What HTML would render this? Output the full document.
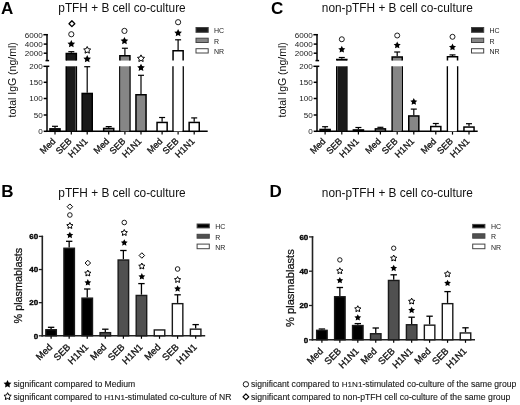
<!DOCTYPE html>
<html><head><meta charset="utf-8"><title>figure</title>
<style>html,body{margin:0;padding:0;background:#fff;width:520px;height:405px;overflow:hidden}svg{display:block;will-change:transform}text{font-family:"Liberation Sans",sans-serif}</style>
</head><body>
<svg width="520" height="405" viewBox="0 0 520 405">
<rect width="520" height="405" fill="#fff"/>
<text x="0.9" y="14.1" font-size="17" text-anchor="start" font-weight="bold" fill="#000" >A</text>
<text x="58.3" y="12.4" font-size="11.85" text-anchor="start" font-weight="normal" fill="#111" >pTFH + B cell co-culture</text>
<text x="0" y="0" font-size="10.5" text-anchor="middle" fill="#111" transform="translate(15.7,79.9) rotate(-90)">total IgG (ng/ml)</text>
<line x1="47" y1="34.0" x2="47" y2="60.6" stroke="#000" stroke-width="1.5"/>
<line x1="43.4" y1="34.7" x2="47.75" y2="34.7" stroke="#000" stroke-width="1.5"/>
<line x1="43.7" y1="44.1" x2="47" y2="44.1" stroke="#000" stroke-width="1.5"/>
<line x1="43.7" y1="53.2" x2="47" y2="53.2" stroke="#000" stroke-width="1.5"/>
<line x1="45.5" y1="60.6" x2="49.1" y2="60.6" stroke="#000" stroke-width="1.5"/>
<line x1="47" y1="66.3" x2="47" y2="132.05" stroke="#000" stroke-width="1.5"/>
<line x1="43.4" y1="66.3" x2="49.3" y2="66.3" stroke="#000" stroke-width="1.5"/>
<line x1="43.7" y1="82.3" x2="47" y2="82.3" stroke="#000" stroke-width="1.5"/>
<line x1="43.7" y1="98.5" x2="47" y2="98.5" stroke="#000" stroke-width="1.5"/>
<line x1="43.7" y1="115.0" x2="47" y2="115.0" stroke="#000" stroke-width="1.5"/>
<line x1="43.7" y1="131.3" x2="47" y2="131.3" stroke="#000" stroke-width="1.5"/>
<text x="42.8" y="37.6" font-size="8.1" text-anchor="end" font-weight="normal" fill="#222" >6000</text>
<text x="42.8" y="47.0" font-size="8.1" text-anchor="end" font-weight="normal" fill="#222" >4000</text>
<text x="42.8" y="56.1" font-size="8.1" text-anchor="end" font-weight="normal" fill="#222" >2000</text>
<text x="42.8" y="69.2" font-size="8.1" text-anchor="end" font-weight="normal" fill="#222" >200</text>
<text x="42.8" y="85.2" font-size="8.1" text-anchor="end" font-weight="normal" fill="#222" >150</text>
<text x="42.8" y="101.4" font-size="8.1" text-anchor="end" font-weight="normal" fill="#222" >100</text>
<text x="42.8" y="117.9" font-size="8.1" text-anchor="end" font-weight="normal" fill="#222" >50</text>
<text x="42.8" y="134.20000000000002" font-size="8.1" text-anchor="end" font-weight="normal" fill="#222" >0</text>
<line x1="46.25" y1="131.3" x2="207.7" y2="131.3" stroke="#000" stroke-width="1.5"/>
<line x1="55" y1="131.3" x2="55" y2="134.6" stroke="#000" stroke-width="1.2"/>
<text x="0" y="0" font-size="9.1" text-anchor="end" fill="#111" stroke="#111" stroke-width="0.3" transform="translate(56.1,141.8) rotate(-45)">Med</text>
<line x1="71.3" y1="131.3" x2="71.3" y2="134.6" stroke="#000" stroke-width="1.2"/>
<text x="0" y="0" font-size="9.1" text-anchor="end" fill="#111" stroke="#111" stroke-width="0.3" transform="translate(72.39999999999999,141.8) rotate(-45)">SEB</text>
<line x1="87.2" y1="131.3" x2="87.2" y2="134.6" stroke="#000" stroke-width="1.2"/>
<text x="0" y="0" font-size="9.1" text-anchor="end" fill="#111" stroke="#111" stroke-width="0.3" transform="translate(88.3,141.8) rotate(-45)">H1N1</text>
<line x1="108.7" y1="131.3" x2="108.7" y2="134.6" stroke="#000" stroke-width="1.2"/>
<text x="0" y="0" font-size="9.1" text-anchor="end" fill="#111" stroke="#111" stroke-width="0.3" transform="translate(109.8,141.8) rotate(-45)">Med</text>
<line x1="124.9" y1="131.3" x2="124.9" y2="134.6" stroke="#000" stroke-width="1.2"/>
<text x="0" y="0" font-size="9.1" text-anchor="end" fill="#111" stroke="#111" stroke-width="0.3" transform="translate(126.0,141.8) rotate(-45)">SEB</text>
<line x1="141" y1="131.3" x2="141" y2="134.6" stroke="#000" stroke-width="1.2"/>
<text x="0" y="0" font-size="9.1" text-anchor="end" fill="#111" stroke="#111" stroke-width="0.3" transform="translate(142.1,141.8) rotate(-45)">H1N1</text>
<line x1="162.1" y1="131.3" x2="162.1" y2="134.6" stroke="#000" stroke-width="1.2"/>
<text x="0" y="0" font-size="9.1" text-anchor="end" fill="#111" stroke="#111" stroke-width="0.3" transform="translate(163.2,141.8) rotate(-45)">Med</text>
<line x1="178.1" y1="131.3" x2="178.1" y2="134.6" stroke="#000" stroke-width="1.2"/>
<text x="0" y="0" font-size="9.1" text-anchor="end" fill="#111" stroke="#111" stroke-width="0.3" transform="translate(179.2,141.8) rotate(-45)">SEB</text>
<line x1="194.2" y1="131.3" x2="194.2" y2="134.6" stroke="#000" stroke-width="1.2"/>
<text x="0" y="0" font-size="9.1" text-anchor="end" fill="#111" stroke="#111" stroke-width="0.3" transform="translate(195.29999999999998,141.8) rotate(-45)">H1N1</text>
<line x1="55" y1="128.1" x2="55" y2="126.3" stroke="#000" stroke-width="1.2"/>
<line x1="52" y1="126.3" x2="58" y2="126.3" stroke="#000" stroke-width="1.2"/>
<rect x="49.95" y="128.85" width="10.1" height="2.450000000000017" fill="#1a1a1a" stroke="#000" stroke-width="1.5"/>
<line x1="71.3" y1="52.8" x2="71.3" y2="51.7" stroke="#000" stroke-width="1.2"/>
<line x1="68.3" y1="51.7" x2="74.3" y2="51.7" stroke="#000" stroke-width="1.2"/>
<path d="M66.25,60.6 L66.25,53.55 L76.35,53.55 L76.35,60.6" fill="#1a1a1a" stroke="#000" stroke-width="1.5"/>
<path d="M66.25,131.3 L66.25,66.3 M76.35,66.3 L76.35,131.3" stroke="#000" stroke-width="1.5"/>
<rect x="67.0" y="66.3" width="8.6" height="65.00000000000001" fill="#1a1a1a"/>
<line x1="87.2" y1="92.7" x2="87.2" y2="66.7" stroke="#000" stroke-width="1.2"/>
<line x1="84.2" y1="66.7" x2="90.2" y2="66.7" stroke="#000" stroke-width="1.2"/>
<rect x="82.15" y="93.45" width="10.1" height="37.85000000000001" fill="#1a1a1a" stroke="#000" stroke-width="1.5"/>
<line x1="108.7" y1="127.7" x2="108.7" y2="126.6" stroke="#000" stroke-width="1.2"/>
<line x1="105.7" y1="126.6" x2="111.7" y2="126.6" stroke="#000" stroke-width="1.2"/>
<rect x="103.65" y="128.45" width="10.1" height="2.8500000000000085" fill="#868686" stroke="#000" stroke-width="1.5"/>
<line x1="124.9" y1="55" x2="124.9" y2="48.25" stroke="#000" stroke-width="1.2"/>
<line x1="121.9" y1="48.25" x2="127.9" y2="48.25" stroke="#000" stroke-width="1.2"/>
<path d="M119.85000000000001,60.6 L119.85000000000001,55.75 L129.95000000000002,55.75 L129.95000000000002,60.6" fill="#868686" stroke="#000" stroke-width="1.5"/>
<path d="M119.85000000000001,131.3 L119.85000000000001,66.3 M129.95000000000002,66.3 L129.95000000000002,131.3" stroke="#000" stroke-width="1.5"/>
<rect x="120.60000000000001" y="66.3" width="8.6" height="65.00000000000001" fill="#868686"/>
<line x1="141" y1="94.0" x2="141" y2="75.3" stroke="#000" stroke-width="1.2"/>
<line x1="138" y1="75.3" x2="144" y2="75.3" stroke="#000" stroke-width="1.2"/>
<rect x="135.95" y="94.75" width="10.1" height="36.55000000000001" fill="#868686" stroke="#000" stroke-width="1.5"/>
<line x1="162.1" y1="121.7" x2="162.1" y2="117.5" stroke="#000" stroke-width="1.2"/>
<line x1="159.1" y1="117.5" x2="165.1" y2="117.5" stroke="#000" stroke-width="1.2"/>
<rect x="157.04999999999998" y="122.45" width="10.1" height="8.850000000000009" fill="#fff" stroke="#000" stroke-width="1.5"/>
<line x1="178.1" y1="50.1" x2="178.1" y2="39.8" stroke="#000" stroke-width="1.2"/>
<line x1="175.1" y1="39.8" x2="181.1" y2="39.8" stroke="#000" stroke-width="1.2"/>
<path d="M173.04999999999998,60.6 L173.04999999999998,50.85 L183.14999999999998,50.85 L183.14999999999998,60.6" fill="#fff" stroke="#000" stroke-width="1.5"/>
<path d="M173.04999999999998,131.3 L173.04999999999998,66.3 M183.14999999999998,66.3 L183.14999999999998,131.3" stroke="#000" stroke-width="1.5"/>
<rect x="173.79999999999998" y="66.3" width="8.6" height="65.00000000000001" fill="#fff"/>
<line x1="194.2" y1="121.7" x2="194.2" y2="117.9" stroke="#000" stroke-width="1.2"/>
<line x1="191.2" y1="117.9" x2="197.2" y2="117.9" stroke="#000" stroke-width="1.2"/>
<rect x="189.14999999999998" y="122.45" width="10.1" height="8.850000000000009" fill="#fff" stroke="#000" stroke-width="1.5"/>
<polygon points="71.30,40.10 72.48,42.48 75.10,42.86 73.20,44.72 73.65,47.34 71.30,46.10 68.95,47.34 69.40,44.72 67.50,42.86 70.12,42.48" fill="#000"/>
<circle cx="71.3" cy="34.25" r="2.60" fill="none" stroke="#111" stroke-width="0.95"/>
<polygon points="71.9,20.8 74.80000000000001,23.7 71.9,26.599999999999998 69.0,23.7" fill="none" stroke="#000" stroke-width="1.3" stroke-linejoin="round"/>
<polygon points="87.20,46.52 88.28,48.71 90.70,49.06 88.95,50.77 89.36,53.18 87.20,52.04 85.04,53.18 85.45,50.77 83.70,49.06 86.12,48.71" fill="none" stroke="#000" stroke-width="1" stroke-linejoin="miter"/>
<polygon points="87.20,55.10 88.38,57.48 91.00,57.86 89.10,59.72 89.55,62.34 87.20,61.10 84.85,62.34 85.30,59.72 83.40,57.86 86.02,57.48" fill="#000"/>
<polygon points="124.45,36.90 125.63,39.28 128.25,39.66 126.35,41.52 126.80,44.14 124.45,42.90 122.10,44.14 122.55,41.52 120.65,39.66 123.27,39.28" fill="#000"/>
<circle cx="124.45" cy="30.9" r="2.60" fill="none" stroke="#111" stroke-width="0.95"/>
<polygon points="141.00,54.87 142.08,57.06 144.50,57.41 142.75,59.12 143.16,61.53 141.00,60.39 138.84,61.53 139.25,59.12 137.50,57.41 139.92,57.06" fill="none" stroke="#000" stroke-width="1" stroke-linejoin="miter"/>
<polygon points="141.00,63.70 142.18,66.08 144.80,66.46 142.90,68.32 143.35,70.94 141.00,69.70 138.65,70.94 139.10,68.32 137.20,66.46 139.82,66.08" fill="#000"/>
<polygon points="178.10,29.10 179.28,31.48 181.90,31.86 180.00,33.72 180.45,36.34 178.10,35.10 175.75,36.34 176.20,33.72 174.30,31.86 176.92,31.48" fill="#000"/>
<circle cx="178.1" cy="22.2" r="2.60" fill="none" stroke="#111" stroke-width="0.95"/>
<rect x="196.0" y="27.5" width="12.2" height="4.799999999999997" fill="#1a1a1a" stroke="#444" stroke-width="1"/>
<text x="214" y="33.199999999999996" font-size="7" text-anchor="start" font-weight="normal" fill="#222" >HC</text>
<rect x="196.0" y="38.2" width="12.2" height="4.299999999999997" fill="#868686" stroke="#444" stroke-width="1"/>
<text x="214" y="43.65" font-size="7" text-anchor="start" font-weight="normal" fill="#222" >R</text>
<rect x="196.0" y="48.7" width="12.2" height="4.299999999999997" fill="#fff" stroke="#444" stroke-width="1"/>
<text x="214" y="54.15" font-size="7" text-anchor="start" font-weight="normal" fill="#222" >NR</text>
<text x="270.9" y="14.1" font-size="17" text-anchor="start" font-weight="bold" fill="#000" >C</text>
<text x="321.8" y="12.4" font-size="11.85" text-anchor="start" font-weight="normal" fill="#111" >non-pTFH + B cell co-culture</text>
<text x="0" y="0" font-size="10.5" text-anchor="middle" fill="#111" transform="translate(285.7,79.9) rotate(-90)">total IgG (ng/ml)</text>
<line x1="317" y1="34.0" x2="317" y2="60.6" stroke="#000" stroke-width="1.5"/>
<line x1="313.4" y1="34.7" x2="317.75" y2="34.7" stroke="#000" stroke-width="1.5"/>
<line x1="313.7" y1="44.1" x2="317" y2="44.1" stroke="#000" stroke-width="1.5"/>
<line x1="313.7" y1="53.2" x2="317" y2="53.2" stroke="#000" stroke-width="1.5"/>
<line x1="315.5" y1="60.6" x2="319.1" y2="60.6" stroke="#000" stroke-width="1.5"/>
<line x1="317" y1="66.3" x2="317" y2="132.05" stroke="#000" stroke-width="1.5"/>
<line x1="313.4" y1="66.3" x2="319.3" y2="66.3" stroke="#000" stroke-width="1.5"/>
<line x1="313.7" y1="82.3" x2="317" y2="82.3" stroke="#000" stroke-width="1.5"/>
<line x1="313.7" y1="98.5" x2="317" y2="98.5" stroke="#000" stroke-width="1.5"/>
<line x1="313.7" y1="115.0" x2="317" y2="115.0" stroke="#000" stroke-width="1.5"/>
<line x1="313.7" y1="131.3" x2="317" y2="131.3" stroke="#000" stroke-width="1.5"/>
<text x="312.8" y="37.6" font-size="8.1" text-anchor="end" font-weight="normal" fill="#222" >6000</text>
<text x="312.8" y="47.0" font-size="8.1" text-anchor="end" font-weight="normal" fill="#222" >4000</text>
<text x="312.8" y="56.1" font-size="8.1" text-anchor="end" font-weight="normal" fill="#222" >2000</text>
<text x="312.8" y="69.2" font-size="8.1" text-anchor="end" font-weight="normal" fill="#222" >200</text>
<text x="312.8" y="85.2" font-size="8.1" text-anchor="end" font-weight="normal" fill="#222" >150</text>
<text x="312.8" y="101.4" font-size="8.1" text-anchor="end" font-weight="normal" fill="#222" >100</text>
<text x="312.8" y="117.9" font-size="8.1" text-anchor="end" font-weight="normal" fill="#222" >50</text>
<text x="312.8" y="134.20000000000002" font-size="8.1" text-anchor="end" font-weight="normal" fill="#222" >0</text>
<line x1="316.25" y1="131.3" x2="477.7" y2="131.3" stroke="#000" stroke-width="1.5"/>
<line x1="325.1" y1="131.3" x2="325.1" y2="134.6" stroke="#000" stroke-width="1.2"/>
<text x="0" y="0" font-size="9.1" text-anchor="end" fill="#111" stroke="#111" stroke-width="0.3" transform="translate(326.20000000000005,141.8) rotate(-45)">Med</text>
<line x1="341.8" y1="131.3" x2="341.8" y2="134.6" stroke="#000" stroke-width="1.2"/>
<text x="0" y="0" font-size="9.1" text-anchor="end" fill="#111" stroke="#111" stroke-width="0.3" transform="translate(342.90000000000003,141.8) rotate(-45)">SEB</text>
<line x1="358.4" y1="131.3" x2="358.4" y2="134.6" stroke="#000" stroke-width="1.2"/>
<text x="0" y="0" font-size="9.1" text-anchor="end" fill="#111" stroke="#111" stroke-width="0.3" transform="translate(359.5,141.8) rotate(-45)">H1N1</text>
<line x1="380.4" y1="131.3" x2="380.4" y2="134.6" stroke="#000" stroke-width="1.2"/>
<text x="0" y="0" font-size="9.1" text-anchor="end" fill="#111" stroke="#111" stroke-width="0.3" transform="translate(381.5,141.8) rotate(-45)">Med</text>
<line x1="397.2" y1="131.3" x2="397.2" y2="134.6" stroke="#000" stroke-width="1.2"/>
<text x="0" y="0" font-size="9.1" text-anchor="end" fill="#111" stroke="#111" stroke-width="0.3" transform="translate(398.3,141.8) rotate(-45)">SEB</text>
<line x1="413.8" y1="131.3" x2="413.8" y2="134.6" stroke="#000" stroke-width="1.2"/>
<text x="0" y="0" font-size="9.1" text-anchor="end" fill="#111" stroke="#111" stroke-width="0.3" transform="translate(414.90000000000003,141.8) rotate(-45)">H1N1</text>
<line x1="435.8" y1="131.3" x2="435.8" y2="134.6" stroke="#000" stroke-width="1.2"/>
<text x="0" y="0" font-size="9.1" text-anchor="end" fill="#111" stroke="#111" stroke-width="0.3" transform="translate(436.90000000000003,141.8) rotate(-45)">Med</text>
<line x1="452.5" y1="131.3" x2="452.5" y2="134.6" stroke="#000" stroke-width="1.2"/>
<text x="0" y="0" font-size="9.1" text-anchor="end" fill="#111" stroke="#111" stroke-width="0.3" transform="translate(453.6,141.8) rotate(-45)">SEB</text>
<line x1="469" y1="131.3" x2="469" y2="134.6" stroke="#000" stroke-width="1.2"/>
<text x="0" y="0" font-size="9.1" text-anchor="end" fill="#111" stroke="#111" stroke-width="0.3" transform="translate(470.1,141.8) rotate(-45)">H1N1</text>
<line x1="325.1" y1="128.7" x2="325.1" y2="126.7" stroke="#000" stroke-width="1.2"/>
<line x1="322.1" y1="126.7" x2="328.1" y2="126.7" stroke="#000" stroke-width="1.2"/>
<rect x="320.05" y="129.45" width="10.1" height="1.8500000000000227" fill="#1a1a1a" stroke="#000" stroke-width="1.5"/>
<line x1="341.8" y1="58.75" x2="341.8" y2="57.5" stroke="#000" stroke-width="1.2"/>
<line x1="338.8" y1="57.5" x2="344.8" y2="57.5" stroke="#000" stroke-width="1.2"/>
<path d="M336.75,60.6 L336.75,59.5 L346.85,59.5 L346.85,60.6" fill="#1a1a1a" stroke="#000" stroke-width="1.5"/>
<path d="M336.75,131.3 L336.75,66.3 M346.85,66.3 L346.85,131.3" stroke="#000" stroke-width="1.5"/>
<rect x="337.5" y="66.3" width="8.6" height="65.00000000000001" fill="#1a1a1a"/>
<line x1="358.4" y1="129.2" x2="358.4" y2="127.5" stroke="#000" stroke-width="1.2"/>
<line x1="355.4" y1="127.5" x2="361.4" y2="127.5" stroke="#000" stroke-width="1.2"/>
<rect x="353.34999999999997" y="129.95" width="10.1" height="1.3500000000000227" fill="#1a1a1a" stroke="#000" stroke-width="1.5"/>
<line x1="380.4" y1="128.1" x2="380.4" y2="127.3" stroke="#000" stroke-width="1.2"/>
<line x1="377.4" y1="127.3" x2="383.4" y2="127.3" stroke="#000" stroke-width="1.2"/>
<rect x="375.34999999999997" y="128.85" width="10.1" height="2.450000000000017" fill="#868686" stroke="#000" stroke-width="1.5"/>
<line x1="397.2" y1="56.25" x2="397.2" y2="52" stroke="#000" stroke-width="1.2"/>
<line x1="394.2" y1="52" x2="400.2" y2="52" stroke="#000" stroke-width="1.2"/>
<path d="M392.15,60.6 L392.15,57.0 L402.25,57.0 L402.25,60.6" fill="#868686" stroke="#000" stroke-width="1.5"/>
<path d="M392.15,131.3 L392.15,66.3 M402.25,66.3 L402.25,131.3" stroke="#000" stroke-width="1.5"/>
<rect x="392.9" y="66.3" width="8.6" height="65.00000000000001" fill="#868686"/>
<line x1="413.8" y1="115.2" x2="413.8" y2="109.1" stroke="#000" stroke-width="1.2"/>
<line x1="410.8" y1="109.1" x2="416.8" y2="109.1" stroke="#000" stroke-width="1.2"/>
<rect x="408.75" y="115.95" width="10.1" height="15.350000000000009" fill="#868686" stroke="#000" stroke-width="1.5"/>
<line x1="435.8" y1="125.8" x2="435.8" y2="123.5" stroke="#000" stroke-width="1.2"/>
<line x1="432.8" y1="123.5" x2="438.8" y2="123.5" stroke="#000" stroke-width="1.2"/>
<rect x="430.75" y="126.55" width="10.1" height="4.750000000000014" fill="#fff" stroke="#000" stroke-width="1.5"/>
<line x1="452.5" y1="56.0" x2="452.5" y2="54.9" stroke="#000" stroke-width="1.2"/>
<line x1="449.5" y1="54.9" x2="455.5" y2="54.9" stroke="#000" stroke-width="1.2"/>
<path d="M447.45,60.6 L447.45,56.75 L457.55,56.75 L457.55,60.6" fill="#fff" stroke="#000" stroke-width="1.5"/>
<path d="M447.45,131.3 L447.45,66.3 M457.55,66.3 L457.55,131.3" stroke="#000" stroke-width="1.5"/>
<rect x="448.2" y="66.3" width="8.6" height="65.00000000000001" fill="#fff"/>
<line x1="469" y1="126.3" x2="469" y2="123.7" stroke="#000" stroke-width="1.2"/>
<line x1="466" y1="123.7" x2="472" y2="123.7" stroke="#000" stroke-width="1.2"/>
<rect x="463.95" y="127.05" width="10.1" height="4.250000000000014" fill="#fff" stroke="#000" stroke-width="1.5"/>
<polygon points="341.80,45.85 342.89,48.05 345.32,48.41 343.56,50.12 343.97,52.54 341.80,51.40 339.63,52.54 340.04,50.12 338.28,48.41 340.71,48.05" fill="#000"/>
<circle cx="341.8" cy="39.25" r="2.50" fill="none" stroke="#111" stroke-width="0.95"/>
<polygon points="397.20,41.60 398.29,43.80 400.72,44.16 398.96,45.87 399.37,48.29 397.20,47.15 395.03,48.29 395.44,45.87 393.68,44.16 396.11,43.80" fill="#000"/>
<circle cx="397.2" cy="35.5" r="2.50" fill="none" stroke="#111" stroke-width="0.95"/>
<polygon points="413.80,98.10 414.89,100.30 417.32,100.66 415.56,102.37 415.97,104.79 413.80,103.65 411.63,104.79 412.04,102.37 410.28,100.66 412.71,100.30" fill="#000"/>
<polygon points="452.50,43.60 453.59,45.80 456.02,46.16 454.26,47.87 454.67,50.29 452.50,49.15 450.33,50.29 450.74,47.87 448.98,46.16 451.41,45.80" fill="#000"/>
<circle cx="452.5" cy="36.8" r="2.50" fill="none" stroke="#111" stroke-width="0.95"/>
<rect x="471.5" y="27.5" width="12.2" height="4.799999999999997" fill="#1a1a1a" stroke="#444" stroke-width="1"/>
<text x="489.5" y="33.199999999999996" font-size="7" text-anchor="start" font-weight="normal" fill="#222" >HC</text>
<rect x="471.5" y="38.2" width="12.2" height="4.299999999999997" fill="#868686" stroke="#444" stroke-width="1"/>
<text x="489.5" y="43.65" font-size="7" text-anchor="start" font-weight="normal" fill="#222" >R</text>
<rect x="471.5" y="48.7" width="12.2" height="4.299999999999997" fill="#fff" stroke="#444" stroke-width="1"/>
<text x="489.5" y="54.15" font-size="7" text-anchor="start" font-weight="normal" fill="#222" >NR</text>
<text x="1.3" y="196.7" font-size="17" text-anchor="start" font-weight="bold" fill="#000" >B</text>
<text x="58.3" y="197.0" font-size="11.85" text-anchor="start" font-weight="normal" fill="#111" >pTFH + B cell co-culture</text>
<text x="0" y="0" font-size="10.8" text-anchor="middle" fill="#111" stroke="#111" stroke-width="0.25" transform="translate(21.9,285.6) rotate(-90)">% plasmablasts</text>
<line x1="42.3" y1="235.70000000000002" x2="42.3" y2="336.55" stroke="#222" stroke-width="1.6"/>
<line x1="38.8" y1="236.4" x2="43.099999999999994" y2="236.4" stroke="#222" stroke-width="1.3"/>
<text x="38.099999999999994" y="239.20000000000002" font-size="8" text-anchor="end" font-weight="bold" fill="#000" stroke="#000" stroke-width="0.35">60</text>
<line x1="38.8" y1="269.53333333333336" x2="42.3" y2="269.53333333333336" stroke="#222" stroke-width="1.3"/>
<text x="38.099999999999994" y="272.33333333333337" font-size="8" text-anchor="end" font-weight="bold" fill="#000" stroke="#000" stroke-width="0.35">40</text>
<line x1="38.8" y1="302.6666666666667" x2="42.3" y2="302.6666666666667" stroke="#222" stroke-width="1.3"/>
<text x="38.099999999999994" y="305.4666666666667" font-size="8" text-anchor="end" font-weight="bold" fill="#000" stroke="#000" stroke-width="0.35">20</text>
<line x1="38.8" y1="335.8" x2="42.3" y2="335.8" stroke="#222" stroke-width="1.3"/>
<text x="38.099999999999994" y="338.6" font-size="8" text-anchor="end" font-weight="bold" fill="#000" stroke="#000" stroke-width="0.35">0</text>
<line x1="41.5" y1="335.8" x2="205.2" y2="335.8" stroke="#222" stroke-width="1.6"/>
<line x1="51.1" y1="335.8" x2="51.1" y2="338.8" stroke="#000" stroke-width="1.2"/>
<text x="0" y="0" font-size="9.5" text-anchor="end" fill="#111" stroke="#111" stroke-width="0.3" transform="translate(52.9,347.7) rotate(-45)">Med</text>
<line x1="69.17" y1="335.8" x2="69.17" y2="338.8" stroke="#000" stroke-width="1.2"/>
<text x="0" y="0" font-size="9.5" text-anchor="end" fill="#111" stroke="#111" stroke-width="0.3" transform="translate(70.97,347.7) rotate(-45)">SEB</text>
<line x1="87.24000000000001" y1="335.8" x2="87.24000000000001" y2="338.8" stroke="#000" stroke-width="1.2"/>
<text x="0" y="0" font-size="9.5" text-anchor="end" fill="#111" stroke="#111" stroke-width="0.3" transform="translate(89.04,347.7) rotate(-45)">H1N1</text>
<line x1="105.31" y1="335.8" x2="105.31" y2="338.8" stroke="#000" stroke-width="1.2"/>
<text x="0" y="0" font-size="9.5" text-anchor="end" fill="#111" stroke="#111" stroke-width="0.3" transform="translate(107.11,347.7) rotate(-45)">Med</text>
<line x1="123.38" y1="335.8" x2="123.38" y2="338.8" stroke="#000" stroke-width="1.2"/>
<text x="0" y="0" font-size="9.5" text-anchor="end" fill="#111" stroke="#111" stroke-width="0.3" transform="translate(125.17999999999999,347.7) rotate(-45)">SEB</text>
<line x1="141.45" y1="335.8" x2="141.45" y2="338.8" stroke="#000" stroke-width="1.2"/>
<text x="0" y="0" font-size="9.5" text-anchor="end" fill="#111" stroke="#111" stroke-width="0.3" transform="translate(143.25,347.7) rotate(-45)">H1N1</text>
<line x1="159.52" y1="335.8" x2="159.52" y2="338.8" stroke="#000" stroke-width="1.2"/>
<text x="0" y="0" font-size="9.5" text-anchor="end" fill="#111" stroke="#111" stroke-width="0.3" transform="translate(161.32000000000002,347.7) rotate(-45)">Med</text>
<line x1="177.59" y1="335.8" x2="177.59" y2="338.8" stroke="#000" stroke-width="1.2"/>
<text x="0" y="0" font-size="9.5" text-anchor="end" fill="#111" stroke="#111" stroke-width="0.3" transform="translate(179.39000000000001,347.7) rotate(-45)">SEB</text>
<line x1="195.66" y1="335.8" x2="195.66" y2="338.8" stroke="#000" stroke-width="1.2"/>
<text x="0" y="0" font-size="9.5" text-anchor="end" fill="#111" stroke="#111" stroke-width="0.3" transform="translate(197.46,347.7) rotate(-45)">H1N1</text>
<line x1="51.1" y1="329" x2="51.1" y2="327.3" stroke="#000" stroke-width="1.3"/>
<line x1="47.9" y1="327.3" x2="54.300000000000004" y2="327.3" stroke="#000" stroke-width="1.3"/>
<rect x="45.85" y="329.75" width="10.5" height="6.050000000000011" fill="#000" stroke="#1a1a1a" stroke-width="1.4"/>
<line x1="69.17" y1="247.5" x2="69.17" y2="241.3" stroke="#000" stroke-width="1.3"/>
<line x1="65.97" y1="241.3" x2="72.37" y2="241.3" stroke="#000" stroke-width="1.3"/>
<rect x="63.92" y="248.25" width="10.5" height="87.55000000000001" fill="#000" stroke="#1a1a1a" stroke-width="1.4"/>
<line x1="87.24000000000001" y1="297.4" x2="87.24000000000001" y2="289" stroke="#000" stroke-width="1.3"/>
<line x1="84.04" y1="289" x2="90.44000000000001" y2="289" stroke="#000" stroke-width="1.3"/>
<rect x="81.99000000000001" y="298.15" width="10.5" height="37.650000000000034" fill="#000" stroke="#1a1a1a" stroke-width="1.4"/>
<line x1="105.31" y1="331.9" x2="105.31" y2="329.2" stroke="#000" stroke-width="1.3"/>
<line x1="102.11" y1="329.2" x2="108.51" y2="329.2" stroke="#000" stroke-width="1.3"/>
<rect x="100.06" y="332.65" width="10.5" height="3.150000000000034" fill="#505050" stroke="#1a1a1a" stroke-width="1.4"/>
<line x1="123.38" y1="259.25" x2="123.38" y2="250.5" stroke="#000" stroke-width="1.3"/>
<line x1="120.17999999999999" y1="250.5" x2="126.58" y2="250.5" stroke="#000" stroke-width="1.3"/>
<rect x="118.13" y="260.0" width="10.5" height="75.80000000000001" fill="#505050" stroke="#1a1a1a" stroke-width="1.4"/>
<line x1="141.45" y1="294.7" x2="141.45" y2="283.6" stroke="#000" stroke-width="1.3"/>
<line x1="138.25" y1="283.6" x2="144.64999999999998" y2="283.6" stroke="#000" stroke-width="1.3"/>
<rect x="136.2" y="295.45" width="10.5" height="40.35000000000002" fill="#505050" stroke="#1a1a1a" stroke-width="1.4"/>
<rect x="154.27" y="329.95" width="10.5" height="5.850000000000023" fill="#fff" stroke="#1a1a1a" stroke-width="1.4"/>
<line x1="177.59" y1="302.9" x2="177.59" y2="294.8" stroke="#000" stroke-width="1.3"/>
<line x1="174.39000000000001" y1="294.8" x2="180.79" y2="294.8" stroke="#000" stroke-width="1.3"/>
<rect x="172.34" y="303.65" width="10.5" height="32.150000000000034" fill="#fff" stroke="#1a1a1a" stroke-width="1.4"/>
<line x1="195.66" y1="328.4" x2="195.66" y2="324.6" stroke="#000" stroke-width="1.3"/>
<line x1="192.46" y1="324.6" x2="198.85999999999999" y2="324.6" stroke="#000" stroke-width="1.3"/>
<rect x="190.41" y="329.15" width="10.5" height="6.650000000000034" fill="#fff" stroke="#1a1a1a" stroke-width="1.4"/>
<polygon points="69.87,231.75 70.91,233.86 73.25,234.20 71.56,235.85 71.96,238.17 69.87,237.08 67.78,238.17 68.18,235.85 66.49,234.20 68.83,233.86" fill="#000"/>
<polygon points="69.87,222.53 70.83,224.48 72.98,224.79 71.42,226.30 71.79,228.44 69.87,227.43 67.95,228.44 68.32,226.30 66.76,224.79 68.91,224.48" fill="none" stroke="#000" stroke-width="1" stroke-linejoin="miter"/>
<circle cx="69.87" cy="215" r="2.30" fill="none" stroke="#111" stroke-width="0.95"/>
<polygon points="69.87,203.95 72.62,206.7 69.87,209.45 67.12,206.7" fill="none" stroke="#000" stroke-width="1.0" stroke-linejoin="round"/>
<polygon points="87.84,279.05 88.88,281.16 91.22,281.50 89.53,283.15 89.93,285.47 87.84,284.38 85.75,285.47 86.15,283.15 84.46,281.50 86.80,281.16" fill="#000"/>
<polygon points="87.84,270.03 88.80,271.98 90.95,272.29 89.39,273.80 89.76,275.94 87.84,274.93 85.92,275.94 86.29,273.80 84.73,272.29 86.88,271.98" fill="none" stroke="#000" stroke-width="1" stroke-linejoin="miter"/>
<polygon points="87.84,260.25 90.59,263 87.84,265.75 85.09,263" fill="none" stroke="#000" stroke-width="1.0" stroke-linejoin="round"/>
<polygon points="124.28,239.25 125.32,241.36 127.66,241.70 125.97,243.35 126.37,245.67 124.28,244.58 122.19,245.67 122.59,243.35 120.90,241.70 123.24,241.36" fill="#000"/>
<polygon points="124.28,229.53 125.24,231.48 127.39,231.79 125.83,233.30 126.20,235.44 124.28,234.43 122.36,235.44 122.73,233.30 121.17,231.79 123.32,231.48" fill="none" stroke="#000" stroke-width="1" stroke-linejoin="miter"/>
<circle cx="124.28" cy="222.5" r="2.30" fill="none" stroke="#111" stroke-width="0.95"/>
<polygon points="141.85,273.05 142.89,275.16 145.23,275.50 143.54,277.15 143.94,279.47 141.85,278.38 139.76,279.47 140.16,277.15 138.47,275.50 140.81,275.16" fill="#000"/>
<polygon points="141.85,263.03 142.81,264.98 144.96,265.29 143.40,266.80 143.77,268.94 141.85,267.93 139.93,268.94 140.30,266.80 138.74,265.29 140.89,264.98" fill="none" stroke="#000" stroke-width="1" stroke-linejoin="miter"/>
<polygon points="141.85,252.75 144.6,255.5 141.85,258.25 139.1,255.5" fill="none" stroke="#000" stroke-width="1.0" stroke-linejoin="round"/>
<polygon points="177.59,285.25 178.63,287.36 180.97,287.70 179.28,289.35 179.68,291.67 177.59,290.57 175.50,291.67 175.90,289.35 174.21,287.70 176.55,287.36" fill="#000"/>
<polygon points="177.59,276.53 178.55,278.48 180.70,278.79 179.14,280.30 179.51,282.44 177.59,281.43 175.67,282.44 176.04,280.30 174.48,278.79 176.63,278.48" fill="none" stroke="#000" stroke-width="1" stroke-linejoin="miter"/>
<circle cx="177.59" cy="269" r="2.30" fill="none" stroke="#111" stroke-width="0.95"/>
<rect x="197.1" y="224.0" width="12.2" height="3.9000000000000057" fill="#000" stroke="#444" stroke-width="1"/>
<text x="215.3" y="229.25" font-size="7" text-anchor="start" font-weight="normal" fill="#222" >HC</text>
<rect x="197.1" y="234.3" width="12.2" height="3.8999999999999773" fill="#505050" stroke="#444" stroke-width="1"/>
<text x="215.3" y="239.55" font-size="7" text-anchor="start" font-weight="normal" fill="#222" >R</text>
<rect x="197.1" y="244.1" width="12.2" height="4.599999999999994" fill="#fff" stroke="#444" stroke-width="1"/>
<text x="215.3" y="249.7" font-size="7" text-anchor="start" font-weight="normal" fill="#222" >NR</text>
<text x="269.6" y="196.7" font-size="17" text-anchor="start" font-weight="bold" fill="#000" >D</text>
<text x="321.8" y="197.0" font-size="11.85" text-anchor="start" font-weight="normal" fill="#111" >non-pTFH + B cell co-culture</text>
<text x="0" y="0" font-size="11.1" text-anchor="middle" fill="#111" stroke="#111" stroke-width="0.25" transform="translate(293.6,288.1) rotate(-90)">% plasmablasts</text>
<line x1="312.5" y1="236.20000000000002" x2="312.5" y2="340.55" stroke="#222" stroke-width="1.6"/>
<line x1="309.0" y1="236.9" x2="313.3" y2="236.9" stroke="#222" stroke-width="1.3"/>
<text x="308.3" y="239.70000000000002" font-size="8" text-anchor="end" font-weight="bold" fill="#000" stroke="#000" stroke-width="0.35">60</text>
<line x1="309.0" y1="271.2" x2="312.5" y2="271.2" stroke="#222" stroke-width="1.3"/>
<text x="308.3" y="274.0" font-size="8" text-anchor="end" font-weight="bold" fill="#000" stroke="#000" stroke-width="0.35">40</text>
<line x1="309.0" y1="305.5" x2="312.5" y2="305.5" stroke="#222" stroke-width="1.3"/>
<text x="308.3" y="308.3" font-size="8" text-anchor="end" font-weight="bold" fill="#000" stroke="#000" stroke-width="0.35">20</text>
<line x1="309.0" y1="339.8" x2="312.5" y2="339.8" stroke="#222" stroke-width="1.3"/>
<text x="308.3" y="342.6" font-size="8" text-anchor="end" font-weight="bold" fill="#000" stroke="#000" stroke-width="0.35">0</text>
<line x1="311.7" y1="339.8" x2="475" y2="339.8" stroke="#222" stroke-width="1.6"/>
<line x1="321.9" y1="339.8" x2="321.9" y2="342.8" stroke="#000" stroke-width="1.2"/>
<text x="0" y="0" font-size="9.5" text-anchor="end" fill="#111" stroke="#111" stroke-width="0.3" transform="translate(323.7,351.7) rotate(-45)">Med</text>
<line x1="339.84999999999997" y1="339.8" x2="339.84999999999997" y2="342.8" stroke="#000" stroke-width="1.2"/>
<text x="0" y="0" font-size="9.5" text-anchor="end" fill="#111" stroke="#111" stroke-width="0.3" transform="translate(341.65,351.7) rotate(-45)">SEB</text>
<line x1="357.79999999999995" y1="339.8" x2="357.79999999999995" y2="342.8" stroke="#000" stroke-width="1.2"/>
<text x="0" y="0" font-size="9.5" text-anchor="end" fill="#111" stroke="#111" stroke-width="0.3" transform="translate(359.59999999999997,351.7) rotate(-45)">H1N1</text>
<line x1="375.75" y1="339.8" x2="375.75" y2="342.8" stroke="#000" stroke-width="1.2"/>
<text x="0" y="0" font-size="9.5" text-anchor="end" fill="#111" stroke="#111" stroke-width="0.3" transform="translate(377.55,351.7) rotate(-45)">Med</text>
<line x1="393.7" y1="339.8" x2="393.7" y2="342.8" stroke="#000" stroke-width="1.2"/>
<text x="0" y="0" font-size="9.5" text-anchor="end" fill="#111" stroke="#111" stroke-width="0.3" transform="translate(395.5,351.7) rotate(-45)">SEB</text>
<line x1="411.65" y1="339.8" x2="411.65" y2="342.8" stroke="#000" stroke-width="1.2"/>
<text x="0" y="0" font-size="9.5" text-anchor="end" fill="#111" stroke="#111" stroke-width="0.3" transform="translate(413.45,351.7) rotate(-45)">H1N1</text>
<line x1="429.59999999999997" y1="339.8" x2="429.59999999999997" y2="342.8" stroke="#000" stroke-width="1.2"/>
<text x="0" y="0" font-size="9.5" text-anchor="end" fill="#111" stroke="#111" stroke-width="0.3" transform="translate(431.4,351.7) rotate(-45)">Med</text>
<line x1="447.54999999999995" y1="339.8" x2="447.54999999999995" y2="342.8" stroke="#000" stroke-width="1.2"/>
<text x="0" y="0" font-size="9.5" text-anchor="end" fill="#111" stroke="#111" stroke-width="0.3" transform="translate(449.34999999999997,351.7) rotate(-45)">SEB</text>
<line x1="465.5" y1="339.8" x2="465.5" y2="342.8" stroke="#000" stroke-width="1.2"/>
<text x="0" y="0" font-size="9.5" text-anchor="end" fill="#111" stroke="#111" stroke-width="0.3" transform="translate(467.3,351.7) rotate(-45)">H1N1</text>
<line x1="321.9" y1="329.6" x2="321.9" y2="329.0" stroke="#000" stroke-width="1.3"/>
<line x1="318.7" y1="329.0" x2="325.09999999999997" y2="329.0" stroke="#000" stroke-width="1.3"/>
<rect x="316.65" y="330.35" width="10.5" height="9.449999999999989" fill="#000" stroke="#1a1a1a" stroke-width="1.4"/>
<line x1="339.84999999999997" y1="296" x2="339.84999999999997" y2="287.5" stroke="#000" stroke-width="1.3"/>
<line x1="336.65" y1="287.5" x2="343.04999999999995" y2="287.5" stroke="#000" stroke-width="1.3"/>
<rect x="334.59999999999997" y="296.75" width="10.5" height="43.05000000000001" fill="#000" stroke="#1a1a1a" stroke-width="1.4"/>
<line x1="357.79999999999995" y1="324.8" x2="357.79999999999995" y2="323.6" stroke="#000" stroke-width="1.3"/>
<line x1="354.59999999999997" y1="323.6" x2="360.99999999999994" y2="323.6" stroke="#000" stroke-width="1.3"/>
<rect x="352.54999999999995" y="325.55" width="10.5" height="14.25" fill="#000" stroke="#1a1a1a" stroke-width="1.4"/>
<line x1="375.75" y1="333" x2="375.75" y2="328" stroke="#000" stroke-width="1.3"/>
<line x1="372.55" y1="328" x2="378.95" y2="328" stroke="#000" stroke-width="1.3"/>
<rect x="370.5" y="333.75" width="10.5" height="6.050000000000011" fill="#505050" stroke="#1a1a1a" stroke-width="1.4"/>
<line x1="393.7" y1="279.7" x2="393.7" y2="274.8" stroke="#000" stroke-width="1.3"/>
<line x1="390.5" y1="274.8" x2="396.9" y2="274.8" stroke="#000" stroke-width="1.3"/>
<rect x="388.45" y="280.45" width="10.5" height="59.35000000000002" fill="#505050" stroke="#1a1a1a" stroke-width="1.4"/>
<line x1="411.65" y1="324" x2="411.65" y2="317.2" stroke="#000" stroke-width="1.3"/>
<line x1="408.45" y1="317.2" x2="414.84999999999997" y2="317.2" stroke="#000" stroke-width="1.3"/>
<rect x="406.4" y="324.75" width="10.5" height="15.050000000000011" fill="#505050" stroke="#1a1a1a" stroke-width="1.4"/>
<line x1="429.59999999999997" y1="324.4" x2="429.59999999999997" y2="316.2" stroke="#000" stroke-width="1.3"/>
<line x1="426.4" y1="316.2" x2="432.79999999999995" y2="316.2" stroke="#000" stroke-width="1.3"/>
<rect x="424.34999999999997" y="325.15" width="10.5" height="14.650000000000034" fill="#fff" stroke="#1a1a1a" stroke-width="1.4"/>
<line x1="447.54999999999995" y1="302.9" x2="447.54999999999995" y2="291.6" stroke="#000" stroke-width="1.3"/>
<line x1="444.34999999999997" y1="291.6" x2="450.74999999999994" y2="291.6" stroke="#000" stroke-width="1.3"/>
<rect x="442.29999999999995" y="303.65" width="10.5" height="36.150000000000034" fill="#fff" stroke="#1a1a1a" stroke-width="1.4"/>
<line x1="465.5" y1="332.2" x2="465.5" y2="327.8" stroke="#000" stroke-width="1.3"/>
<line x1="462.3" y1="327.8" x2="468.7" y2="327.8" stroke="#000" stroke-width="1.3"/>
<rect x="460.25" y="332.95" width="10.5" height="6.850000000000023" fill="#fff" stroke="#1a1a1a" stroke-width="1.4"/>
<polygon points="339.85,276.95 340.89,279.06 343.23,279.40 341.54,281.05 341.94,283.37 339.85,282.27 337.76,283.37 338.16,281.05 336.47,279.40 338.81,279.06" fill="#000"/>
<polygon points="339.85,267.73 340.81,269.68 342.96,269.99 341.40,271.50 341.77,273.64 339.85,272.63 337.93,273.64 338.30,271.50 336.74,269.99 338.89,269.68" fill="none" stroke="#000" stroke-width="1" stroke-linejoin="miter"/>
<circle cx="339.84999999999997" cy="259.9" r="2.20" fill="none" stroke="#111" stroke-width="0.95"/>
<polygon points="357.80,314.15 358.84,316.26 361.18,316.60 359.49,318.25 359.89,320.57 357.80,319.47 355.71,320.57 356.11,318.25 354.42,316.60 356.76,316.26" fill="#000"/>
<polygon points="357.80,305.73 358.76,307.68 360.91,307.99 359.35,309.50 359.72,311.64 357.80,310.63 355.88,311.64 356.25,309.50 354.69,307.99 356.84,307.68" fill="none" stroke="#000" stroke-width="1" stroke-linejoin="miter"/>
<polygon points="393.70,264.75 394.74,266.86 397.08,267.20 395.39,268.85 395.79,271.17 393.70,270.07 391.61,271.17 392.01,268.85 390.32,267.20 392.66,266.86" fill="#000"/>
<polygon points="393.70,255.03 394.66,256.98 396.81,257.29 395.25,258.80 395.62,260.94 393.70,259.93 391.78,260.94 392.15,258.80 390.59,257.29 392.74,256.98" fill="none" stroke="#000" stroke-width="1" stroke-linejoin="miter"/>
<circle cx="393.7" cy="248.2" r="2.20" fill="none" stroke="#111" stroke-width="0.95"/>
<polygon points="411.65,306.75 412.69,308.86 415.03,309.20 413.34,310.85 413.74,313.17 411.65,312.07 409.56,313.17 409.96,310.85 408.27,309.20 410.61,308.86" fill="#000"/>
<polygon points="411.65,298.13 412.61,300.08 414.76,300.39 413.20,301.90 413.57,304.04 411.65,303.03 409.73,304.04 410.10,301.90 408.54,300.39 410.69,300.08" fill="none" stroke="#000" stroke-width="1" stroke-linejoin="miter"/>
<polygon points="447.55,279.65 448.59,281.76 450.93,282.10 449.24,283.75 449.64,286.07 447.55,284.97 445.46,286.07 445.86,283.75 444.17,282.10 446.51,281.76" fill="#000"/>
<polygon points="447.55,270.83 448.51,272.78 450.66,273.09 449.10,274.60 449.47,276.74 447.55,275.73 445.63,276.74 446.00,274.60 444.44,273.09 446.59,272.78" fill="none" stroke="#000" stroke-width="1" stroke-linejoin="miter"/>
<rect x="472.7" y="224.4" width="12.2" height="3.5" fill="#000" stroke="#444" stroke-width="1"/>
<text x="491" y="229.45000000000002" font-size="7" text-anchor="start" font-weight="normal" fill="#222" >HC</text>
<rect x="472.7" y="233.8" width="12.2" height="4.399999999999977" fill="#505050" stroke="#444" stroke-width="1"/>
<text x="491" y="239.3" font-size="7" text-anchor="start" font-weight="normal" fill="#222" >R</text>
<rect x="472.7" y="244.1" width="12.2" height="4.599999999999994" fill="#fff" stroke="#444" stroke-width="1"/>
<text x="491" y="249.7" font-size="7" text-anchor="start" font-weight="normal" fill="#222" >NR</text>
<polygon points="7.50,379.96 8.72,382.43 11.44,382.82 9.47,384.74 9.93,387.45 7.50,386.17 5.07,387.45 5.53,384.74 3.56,382.82 6.28,382.43" fill="#000"/>
<text x="13.5" y="387.0" font-size="8.63" text-anchor="start" font-weight="normal" fill="#1a1a1a" stroke="#1a1a1a" stroke-width="0.12">significant compared to Medium</text>
<polygon points="7.60,392.69 8.72,394.96 11.22,395.32 9.41,397.09 9.84,399.58 7.60,398.40 5.36,399.58 5.79,397.09 3.98,395.32 6.48,394.96" fill="none" stroke="#000" stroke-width="1" stroke-linejoin="miter"/>
<text x="13.5" y="400.1" font-size="8.61" text-anchor="start" font-weight="normal" fill="#1a1a1a" stroke="#1a1a1a" stroke-width="0.12">significant compared to <tspan font-size="8.1">H1N1</tspan>-stimulated co-culture of NR</text>
<circle cx="245.9" cy="384.3" r="2.68" fill="none" stroke="#111" stroke-width="0.95"/>
<text x="251.0" y="387.0" font-size="8.61" text-anchor="start" font-weight="normal" fill="#1a1a1a" stroke="#1a1a1a" stroke-width="0.12">significant compared to <tspan font-size="8.1">H1N1</tspan>-stimulated co-culture of the same group</text>
<polygon points="245.9,393.90000000000003 248.8,396.8 245.9,399.7 243.0,396.8" fill="none" stroke="#000" stroke-width="1.2" stroke-linejoin="round"/>
<text x="251.0" y="400.1" font-size="8.7" text-anchor="start" font-weight="normal" fill="#1a1a1a" stroke="#1a1a1a" stroke-width="0.12">significant compared to non-pTFH cell co-culture of the same group</text>
</svg>
</body></html>
